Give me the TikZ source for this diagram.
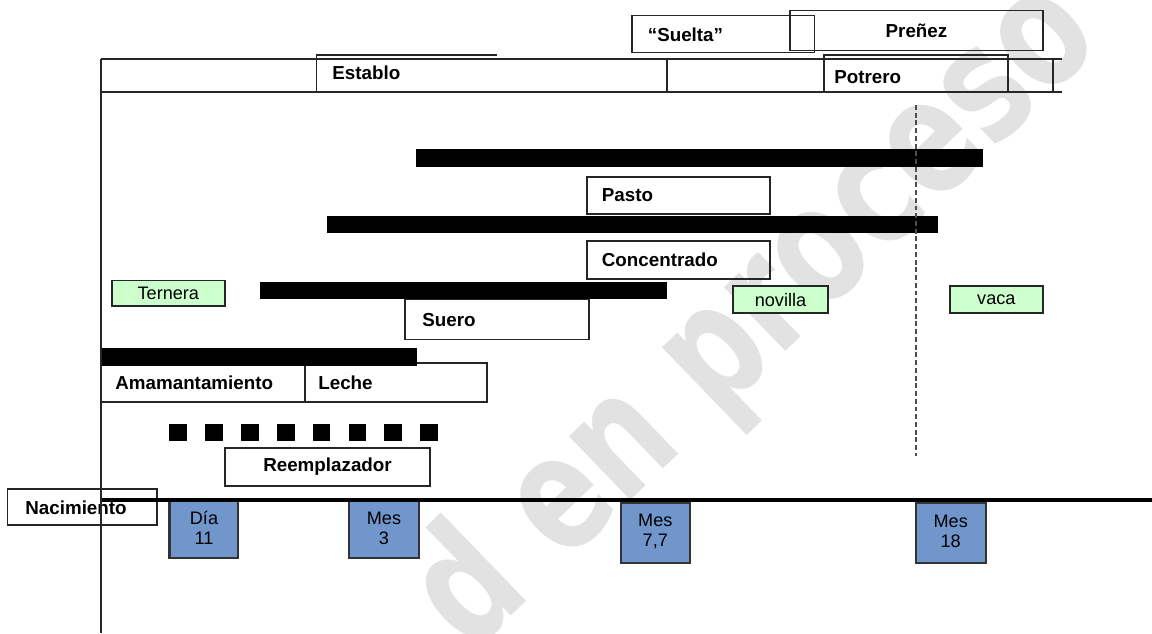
\documentclass[tikz,border=0pt]{standalone}
\usepackage{fontspec}
\setmainfont{Liberation Sans}
\newfontfamily\wmfont{DejaVu Sans}
\usepackage{graphicx}
\usetikzlibrary{fit}
\definecolor{boxblue}{RGB}{112,150,204}
\definecolor{boxgreen}{RGB}{204,255,204}
\definecolor{wmgray}{RGB}{226,226,226}
\begin{document}
\begin{tikzpicture}[x=0.02cm,y=-0.02cm,
  boxf/.style={draw=black!85, line width=1pt, inner sep=0pt},
  barf/.style={fill=black, draw=none, inner sep=0pt},
  bluef/.style={draw=black!80, fill=boxblue, line width=1.2pt, inner sep=0pt},
  bluetxt/.style={font=\fontsize{10.3}{11.3}\selectfont, align=center, inner sep=0pt},
  greenf/.style={draw=black!85, fill=boxgreen, line width=1pt, inner sep=0pt},
  greentxt/.style={font=\fontsize{10.3}{12}\selectfont, inner sep=0pt},
  bfont/.style={font=\bfseries\fontsize{10.7}{12}\selectfont},
  lbl/.style={bfont, inner sep=0pt, anchor=west},
  ctxt/.style={bfont, inner sep=0pt},
  rule/.style={draw=black!85, line width=1pt},
  dotline/.style={draw=black!70, line width=1.3pt, dash pattern=on 2.8pt off 1.6pt},
  timeline/.style={draw=black, line width=2.2pt}
]
\useasboundingbox (0,0) rectangle (1152,633);
\fill[white] (0,0) rectangle (1152,633);

% watermark
\begin{scope}
\clip (0,0) rectangle (1152,633);
\node[rotate=44, text=wmgray, inner sep=0pt] (wm) at (757,317)
  {\scalebox{0.75}[1]{\wmfont\bfseries\fontsize{92}{92}\selectfont d en proceso}};
\end{scope}

% top boxes
\node[boxf, fit={(631.7,15.5) (814.5,52.5)}] (sueltabox) {};
\node[lbl] (suelta) at (647.5,34.5) {“Suelta”};
\node[boxf, fit={(790,10.5) (1043,50.5)}] (prenezbox) {};
\node[ctxt] (prenez) at (916.5,31) {Preñez};

% band
\coordinate (bandTL) at (101,59);
\coordinate (bandTR) at (1062,59);
\coordinate (bandBL) at (101,92);
\coordinate (bandBR) at (1062,92);
\draw[rule] (bandTL) -- (bandTR);
\draw[rule] (bandBL) -- (bandBR);
\coordinate (d1t) at (667.3,59); \coordinate (d1b) at (667.3,92);
\coordinate (d2t) at (1052.7,59); \coordinate (d2b) at (1052.7,92);
\draw[rule] (d1t) -- (d1b);
\draw[rule] (d2t) -- (d2b);
\coordinate (estR) at (497,55); \coordinate (estTL) at (316.5,55); \coordinate (estBL) at (316.5,92);
\draw[rule] (estR) -- (estTL) -- (estBL);
\node[lbl] (establo) at (332,73) {Establo};
\node[boxf, fit={(824,55) (1008,92)}] (potrerobox) {};
\node[lbl] (potrero) at (834,77) {Potrero};

% bars and boxes
\node[barf, fit={(416,148.5) (983,166.5)}] (bar1) {};
\node[boxf, fit={(586.7,176.7) (770,214)}] (pastobox) {};
\node[lbl] (pasto) at (601.5,195) {Pasto};
\node[barf, fit={(326.5,215.5) (938.3,233.3)}] (bar2) {};
\node[boxf, fit={(586.7,240.7) (770,278.7)}] (concbox) {};
\node[lbl] (conc) at (601.5,260) {Concentrado};
\node[boxf, fit={(405,299) (589,339.5)}] (suerobox) {};
\node[barf, fit={(260,281.7) (667,299.3)}] (bar3) {};
\node[lbl] (suero) at (422,320) {Suero};

\node[greenf, fit={(111.7,280.5) (225,306)}] (terbox) {};
\node[greentxt] (ternera) at (168.3,293.5) {Ternera};
\node[greenf, fit={(733,286) (828,313)}] (novbox) {};
\node[greentxt] (novilla) at (780.5,300) {novilla};
\node[greenf, fit={(950,286) (1042.7,313)}] (vacabox) {};
\node[greentxt] (vaca) at (996.3,300) {vaca};

\node[boxf, fit={(101,365) (305,401.7)}] (amambox) {};
\node[boxf, fit={(305,363.3) (486.7,401.7)}] (lechebox) {};
\node[barf, fit={(101,348) (416.7,365.7)}] (bar4) {};
\node[lbl] (amam) at (115,383) {Amamantamiento};
\node[lbl] (leche) at (318,383) {Leche};

\foreach \i in {0,...,7} {
  \node[barf, fit={(169+35.9*\i,424) (186.8+35.9*\i,441)}] (sq\i) {};
}
\node[boxf, fit={(225,448) (430,486)}] (reempbox) {};
\node[ctxt] (reemp) at (327.5,467) {Reemplazador};

% dotted line
\coordinate (dotT) at (915.7,105);
\coordinate (dotB) at (915.7,456);
\draw[dotline] (dotT) -- (dotB);

% timeline boxes
\node[boxf, fit={(7.5,489) (157,525)}] (nacbox) {};
\node[lbl] (nac) at (25,508) {Nacimiento};
\node[bluef, fit={(169.5,500.7) (238.3,558)}] (dia11box) {};
\node[bluetxt] (dia11) at (204,528) {Día\\11};
\node[bluef, fit={(349.3,501) (419,558)}] (mes3box) {};
\node[bluetxt] (mes3) at (384,528) {Mes\\3};
\node[bluef, fit={(620.7,502.7) (690,562.7)}] (mes77box) {};
\node[bluetxt] (mes77) at (655.3,531.7) {Mes\\7,7};
\node[bluef, fit={(915.7,502.7) (985.7,563)}] (mes18box) {};
\node[bluetxt] (mes18) at (950.7,531.7) {Mes\\18};

\coordinate (tl0) at (101,500);
\coordinate (tl1) at (1152,500);
\draw[timeline] (tl0) -- (tl1);
\coordinate (ax0) at (101,59);
\coordinate (ax1) at (101,633);
\draw[draw=black!85, line width=1.3pt] (ax0) -- (ax1);
\end{tikzpicture}
\end{document}
